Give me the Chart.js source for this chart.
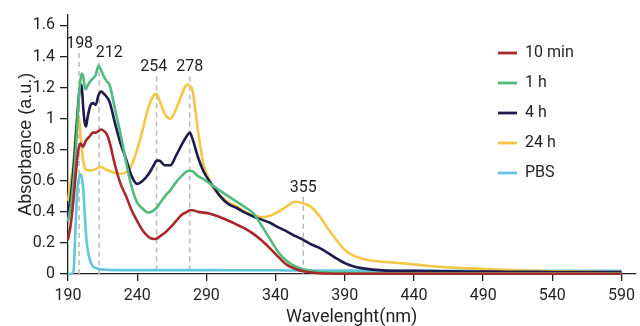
<!DOCTYPE html>
<html><head><meta charset="utf-8">
<script src="https://cdn.jsdelivr.net/npm/chart.js@4.4.1/dist/chart.umd.min.js"></script>
<style>html,body{margin:0;padding:0;background:#fff}#wrap{width:640px;height:326px}</style>
</head><body><div id="wrap"><canvas id="c" width="640" height="326"></canvas></div>
<script>
// ---- data ----
const wavelengths = [190,192,194,195,196,197,198,199,200,201,202,203,204,206,208,210,212,214,216,218,220,224,228,232,236,240,244,248,252,254,256,260,264,268,272,276,278,280,284,288,292,296,300,306,312,318,324,330,336,342,348,354,360,366,372,378,384,390,396,402,410,420,440,460,480,500,520,540,560,580,590];
const series10min = [0.22,0.32,0.48,0.58,0.68,0.77,0.82,0.84,0.83,0.82,0.84,0.86,0.87,0.89,0.91,0.91,0.92,0.93,0.92,0.9,0.85,0.7,0.58,0.5,0.41,0.34,0.28,0.24,0.225,0.228,0.24,0.265,0.3,0.34,0.38,0.4,0.41,0.41,0.4,0.395,0.39,0.378,0.365,0.343,0.318,0.292,0.258,0.215,0.165,0.11,0.06,0.034,0.018,0.01,0.005,0.003,0.002,0.002,0.002,0.002,0.002,0.002,0.002,0.002,0.002,0.002,0.002,0.002,0.002,0.002,0.002];
const series1h = [0.34,0.44,0.6,0.72,0.85,1.0,1.15,1.25,1.29,1.27,1.21,1.19,1.21,1.24,1.26,1.28,1.34,1.31,1.27,1.24,1.22,1.06,0.9,0.72,0.56,0.46,0.42,0.395,0.41,0.425,0.45,0.5,0.54,0.59,0.63,0.66,0.665,0.66,0.63,0.61,0.585,0.56,0.535,0.5,0.465,0.43,0.39,0.31,0.225,0.14,0.085,0.05,0.03,0.02,0.013,0.01,0.008,0.007,0.006,0.006,0.005,0.005,0.005,0.005,0.005,0.005,0.005,0.005,0.005,0.005,0.005];
const series4h = [0.38,0.5,0.68,0.8,0.92,1.05,1.16,1.22,1.2,1.07,0.98,0.95,1.0,1.08,1.1,1.09,1.15,1.175,1.16,1.14,1.11,0.97,0.84,0.74,0.63,0.58,0.6,0.64,0.7,0.73,0.73,0.7,0.7,0.76,0.83,0.89,0.91,0.87,0.75,0.66,0.6,0.55,0.5,0.45,0.425,0.395,0.37,0.35,0.33,0.3,0.275,0.245,0.22,0.19,0.166,0.135,0.1,0.07,0.05,0.038,0.028,0.022,0.02,0.018,0.016,0.015,0.014,0.013,0.012,0.012,0.012];
const series24h = [0.47,0.6,0.72,0.85,0.97,1.02,1.0,0.9,0.8,0.73,0.69,0.67,0.67,0.665,0.67,0.675,0.685,0.69,0.68,0.67,0.665,0.65,0.645,0.655,0.7,0.8,0.93,1.07,1.15,1.16,1.12,1.03,1.0,1.06,1.15,1.22,1.21,1.18,0.92,0.7,0.61,0.54,0.505,0.46,0.435,0.4,0.38,0.365,0.375,0.4,0.435,0.465,0.455,0.43,0.37,0.29,0.22,0.155,0.12,0.1,0.085,0.077,0.062,0.045,0.036,0.028,0.022,0.018,0.015,0.013,0.012];
const seriesPBS = [0,0,0.02,0.2,0.42,0.56,0.62,0.64,0.62,0.55,0.4,0.26,0.17,0.085,0.05,0.04,0.032,0.03,0.028,0.027,0.026,0.025,0.025,0.025,0.025,0.025,0.025,0.025,0.025,0.025,0.025,0.025,0.025,0.025,0.025,0.025,0.025,0.025,0.025,0.025,0.025,0.025,0.025,0.024,0.024,0.024,0.024,0.024,0.024,0.024,0.023,0.023,0.023,0.023,0.023,0.023,0.022,0.022,0.022,0.022,0.022,0.021,0.021,0.021,0.02,0.02,0.02,0.02,0.02,0.02,0.02];
const seriesLabels = ['10 min','1 h','4 h','24 h','PBS'];
// peak annotations: label text, wavelength where the dashed marker sits in the figure,
// wavelength where its label is centred, and the absorbance level of the label
const peakLabels = ['198','212','254','278','355'];
const peakMarkerX = [198,212.5,254,278,360];
const peakLabelX = [198.4,219.8,252,278,360];
const peakLabelLevels = [1.48,1.42,1.33,1.33,0.555];
const xTickValues = [190,240,290,340,390,440,490,540,590];
const yTickValues = [0,0.2,0.4,0.6,0.8,1,1.2,1.4,1.6];

// ---- styling ----
const colors = ['#a8282b','#50bb7d','#1d1b4d','#f4c646','#62c6dd'];
const FONT = "Roboto,'Liberation Sans',sans-serif";
const TEXT = '#231f20';
const AXIS = '#231f20';

const allSeries = [series10min, series1h, series4h, series24h, seriesPBS];
const datasets = allSeries.map((s, i) => ({
  label: seriesLabels[i],
  data: s.map((v, j) => ({x: wavelengths[j], y: v})),
  borderColor: colors[i],
  backgroundColor: colors[i],
  borderWidth: 2.6,
  pointRadius: 0,
  cubicInterpolationMode: 'monotone',
  fill: false,
  clip: false
}));

const peakPlugin = {
  id: 'peaks',
  beforeDatasetsDraw(chart) {
    const {ctx, scales: {x, y}} = chart;
    ctx.save();
    ctx.strokeStyle = '#b8b8b8';
    ctx.lineWidth = 1.5;
    ctx.setLineDash([5, 4]);
    peakMarkerX.forEach((w, i) => {
      const px = x.getPixelForValue(w);
      const py = y.getPixelForValue(peakLabelLevels[i]) + 9;
      ctx.beginPath();
      ctx.moveTo(px, py);
      ctx.lineTo(px, y.bottom);
      ctx.stroke();
    });
    ctx.restore();
  },
  afterDatasetsDraw(chart) {
    const {ctx, scales: {x, y}} = chart;
    ctx.save();
    ctx.fillStyle = TEXT;
    ctx.font = '16px ' + FONT;
    ctx.textAlign = 'center';
    ctx.textBaseline = 'middle';
    peakLabels.forEach((t, i) => {
      ctx.fillText(t, x.getPixelForValue(peakLabelX[i]), y.getPixelForValue(peakLabelLevels[i]));
    });
    ctx.restore();
  }
};

const legendPlugin = {
  id: 'sideLegend',
  afterDraw(chart) {
    const {ctx} = chart;
    ctx.save();
    ctx.font = '16px ' + FONT;
    ctx.textBaseline = 'middle';
    ctx.textAlign = 'left';
    chart.data.datasets.forEach((ds, i) => {
      const yy = 53 + i * 30;
      ctx.strokeStyle = ds.borderColor;
      ctx.lineWidth = 2.8;
      ctx.beginPath();
      ctx.moveTo(498, yy);
      ctx.lineTo(517, yy);
      ctx.stroke();
      ctx.fillStyle = TEXT;
      ctx.fillText(ds.label, 525, yy);
    });
    ctx.restore();
  }
};

Chart.defaults.font.family = FONT;
Chart.defaults.color = TEXT;

new Chart(document.getElementById('c'), {
  type: 'line',
  data: {datasets},
  plugins: [peakPlugin, legendPlugin],
  options: {
    responsive: false,
    animation: false,
    devicePixelRatio: 1,
    layout: {padding: {top: 13, right: 0, left: 0, bottom: 0}},
    plugins: {legend: {display: false}, tooltip: {enabled: false}},
    scales: {
      x: {
        type: 'linear',
        min: 190, max: 600,
        afterBuildTicks(axis) { axis.ticks = xTickValues.map(v => ({value: v})); },
        afterFit(axis) { axis.height = 52; },
        grid: {display: true, drawOnChartArea: false, drawTicks: true, tickLength: 7, color: AXIS, lineWidth: 1.3},
        border: {display: true, color: AXIS, width: 1.3},
        ticks: {color: TEXT, font: {size: 16}, padding: 5, maxRotation: 0, autoSkip: false, callback: v => String(v)},
        title: {display: true, text: 'Wavelenght(nm)', color: TEXT, font: {size: 18}, padding: {top: 0, bottom: -2}}
      },
      y: {
        type: 'linear',
        min: 0, max: 1.67,
        afterBuildTicks(axis) { axis.ticks = yTickValues.map(v => ({value: v})); },
        afterFit(axis) { axis.width = 68; },
        grid: {display: true, drawOnChartArea: false, drawTicks: true, tickLength: 8, color: AXIS, lineWidth: 1.3},
        border: {display: true, color: AXIS, width: 1.3},
        ticks: {color: TEXT, font: {size: 16}, padding: 5, autoSkip: false, callback: v => String(Number(v.toFixed(1)))},
        title: {display: true, text: 'Absorbance (a.u.)', color: TEXT, font: {size: 18, family: "'Liberation Sans',sans-serif"}, padding: {top: 15, bottom: 0}}
      }
    }
  }
});
</script>
</body></html>
